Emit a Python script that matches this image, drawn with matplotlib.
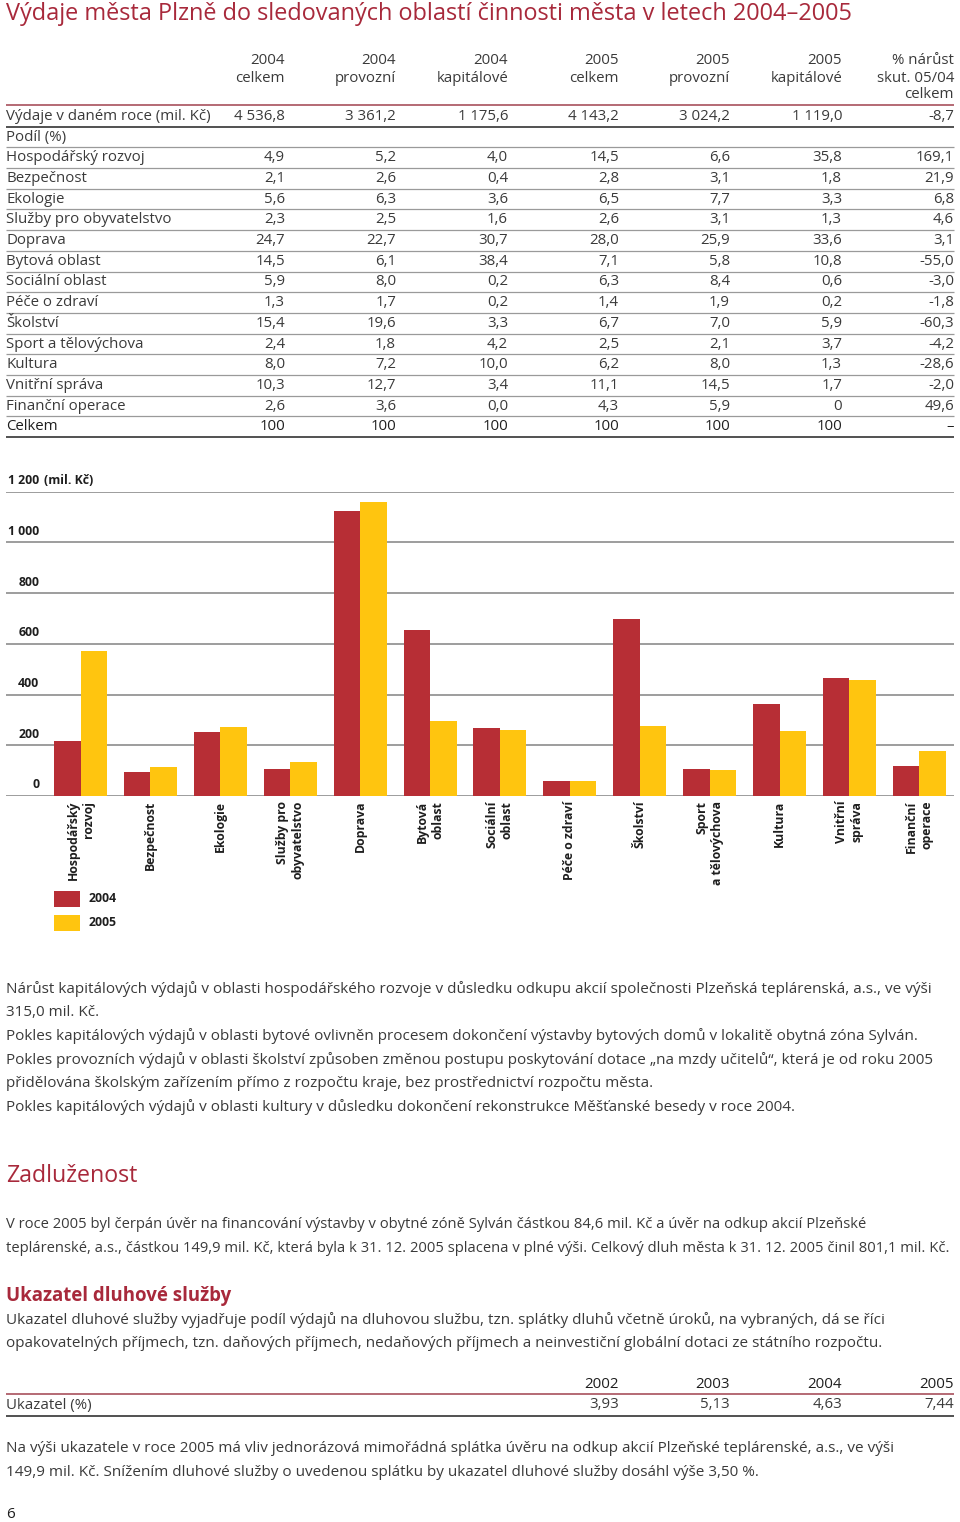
import numpy as np
import matplotlib
matplotlib.use("Agg")
import matplotlib.pyplot as plt
from matplotlib.patches import Rectangle

plt.rcParams['font.family'] = ['Open Sans', 'DejaVu Sans']

# ==============================
# DATA
# ==============================
oblasti = ["Hospodářský rozvoj", "Bezpečnost", "Ekologie", "Služby pro obyvatelstvo",
           "Doprava", "Bytová oblast", "Sociální oblast", "Péče o zdraví", "Školství",
           "Sport a tělovýchova", "Kultura", "Vnitřní správa", "Finanční operace"]

hlavicky = [["2004", "celkem"], ["2004", "provozní"], ["2004", "kapitálové"],
            ["2005", "celkem"], ["2005", "provozní"], ["2005", "kapitálové"],
            ["% nárůst", "skut. 05/04", "celkem"]]

vydaje_celkem = ["4 536,8", "3 361,2", "1 175,6", "4 143,2", "3 024,2", "1 119,0", "-8,7"]

podil_2004_celkem = ["4,9", "2,1", "5,6", "2,3", "24,7", "14,5", "5,9", "1,3", "15,4", "2,4", "8,0", "10,3", "2,6"]
podil_2004_prov = ["5,2", "2,6", "6,3", "2,5", "22,7", "6,1", "8,0", "1,7", "19,6", "1,8", "7,2", "12,7", "3,6"]
podil_2004_kap = ["4,0", "0,4", "3,6", "1,6", "30,7", "38,4", "0,2", "0,2", "3,3", "4,2", "10,0", "3,4", "0,0"]
podil_2005_celkem = ["14,5", "2,8", "6,5", "2,6", "28,0", "7,1", "6,3", "1,4", "6,7", "2,5", "6,2", "11,1", "4,3"]
podil_2005_prov = ["6,6", "3,1", "7,7", "3,1", "25,9", "5,8", "8,4", "1,9", "7,0", "2,1", "8,0", "14,5", "5,9"]
podil_2005_kap = ["35,8", "1,8", "3,3", "1,3", "33,6", "10,8", "0,6", "0,2", "5,9", "3,7", "1,3", "1,7", "0"]
narust = ["169,1", "21,9", "6,8", "4,6", "3,1", "-55,0", "-3,0", "-1,8", "-60,3", "-4,2", "-28,6", "-2,0", "49,6"]
celkem_radek = ["100", "100", "100", "100", "100", "100", "–"]

# graf (mil. Kč)
popisky_grafu = ["Hospodářský\nrozvoj", "Bezpečnost", "Ekologie", "Služby pro\nobyvatelstvo",
                 "Doprava", "Bytová\noblast", "Sociální\noblast", "Péče o zdraví", "Školství",
                 "Sport\na tělovýchova", "Kultura", "Vnitřní\nspráva", "Finanční\noperace"]
vydaje_2004 = [217, 93, 253, 108, 1122, 655, 269, 61, 697, 108, 361, 467, 120]
vydaje_2005 = [570, 116, 271, 136, 1159, 295, 262, 58, 276, 103, 258, 458, 178]
y_ticks = [0, 200, 400, 600, 800, 1000, 1200]

roky_ukazatel = ["2002", "2003", "2004", "2005"]
ukazatel = [3.93, 5.13, 4.63, 7.44]

# ==============================
# STYL
# ==============================
W, H = 960, 1522
RED = "#B72E35"
YELLOW = "#FFC50F"
TITLE_RED = "#A8293B"
TEXT = "#3a3a3a"
DARK = "#1e1e1e"
LINE_GRAY = "#9a9a9a"
TAB = 10.8     # velikost písma tabulky
PAR = 10.95    # velikost písma odstavců

fig = plt.figure(figsize=(W / 100, H / 100), dpi=100)
page = fig.add_axes([0, 0, 1, 1])
page.set_xlim(0, W)
page.set_ylim(H, 0)
page.axis('off')


def txt(x, y, s, size=TAB, color=TEXT, ha='left', weight='normal'):
    page.text(x, y, s, fontsize=size, color=color, ha=ha, va='center', fontweight=weight)


def hline(y, color=LINE_GRAY, lw=0.9, x0=6, x1=954):
    page.plot([x0, x1], [y, y], color=color, lw=lw, solid_capstyle='butt')


# ==============================
# NADPIS + TABULKA
# ==============================
txt(6, 14, "Výdaje města Plzně do sledovaných oblastí činnosti města v letech 2004–2005",
    size=16.95, color=TITLE_RED)

col_x = [285, 396, 508, 619, 730, 842, 954]
for cx, hl in zip(col_x, hlavicky):
    for k, s in enumerate(hl):
        txt(cx, 61 + 17 * k, s, ha='right')

hline(105, color="#a8505c", lw=1.2)
txt(6, 116, "Výdaje v daném roce (mil. Kč)")
for cx, s in zip(col_x, vydaje_celkem):
    txt(cx, 116, s, ha='right')
hline(127, color="#333333", lw=1.2)

row_h = 20.7
txt(6, 137, "Podíl (%)")
hline(137 + 10.3)
sloupce = [podil_2004_celkem, podil_2004_prov, podil_2004_kap, podil_2005_celkem,
           podil_2005_prov, podil_2005_kap, narust]
for i, nazev in enumerate(oblasti):
    y = 137 + row_h * (i + 1)
    txt(6, y, nazev)
    for cx, col in zip(col_x, sloupce):
        txt(cx, y, col[i], ha='right')
    hline(y + 10.3)
y = 137 + row_h * (len(oblasti) + 1)
txt(6, y, "Celkem", color=DARK)
for cx, s in zip(col_x, celkem_radek):
    txt(cx, y, s, ha='right', color=DARK)
hline(y + 10.3, color="#333333", lw=1.2)

# ==============================
# GRAF
# ==============================
y0_px, y1_px = 796, 491.7
ax = fig.add_axes([6 / W, 1 - y0_px / H, 948 / W, (y0_px - y1_px) / H])
ax.patch.set_alpha(0)
x = np.arange(len(vydaje_2004))
w = 0.379
ax.bar(x - w / 2, vydaje_2004, w, color=RED, zorder=3)
ax.bar(x + w / 2, vydaje_2005, w, color=YELLOW, zorder=3)
ax.set_xlim(-1.066, 12.496)
ax.set_ylim(0, 1200)
ax.set_yticks(y_ticks)
ax.yaxis.grid(True, color="#8c8c8c", lw=1.2, zorder=0)
ax.set_axisbelow(True)
ax.tick_params(axis='y', length=0, labelleft=False)
for sp in ax.spines.values():
    sp.set_visible(False)
ax.set_xticks(x)
ax.set_xticklabels(popisky_grafu, rotation=90, fontweight='bold', fontsize=8.8,
                   color=DARK, multialignment='right')
ax.tick_params(axis='x', length=0, pad=3.5)

for v in y_ticks:
    lbl = f"{v:,}".replace(",", " ")
    ax.annotate(lbl, xy=(0, v), xycoords=('axes fraction', 'data'),
                xytext=(24, 8), textcoords='offset points', ha='right', va='center',
                fontsize=8.8, fontweight='bold', color=DARK)
ax.annotate("(mil. Kč)", xy=(0, y_ticks[-1]), xycoords=('axes fraction', 'data'),
            xytext=(27, 8), textcoords='offset points', ha='left', va='center',
            fontsize=8.8, fontweight='bold', color=DARK)

# legenda
page.add_patch(Rectangle((54, 891), 26, 16, color=RED, lw=0))
page.add_patch(Rectangle((54, 915), 26, 16, color=YELLOW, lw=0))
txt(89, 899, "2004", size=8.8, weight='bold', color=DARK)
txt(89, 923, "2005", size=8.8, weight='bold', color=DARK)

# ==============================
# TEXTY
# ==============================
odst1 = ["Nárůst kapitálových výdajů v oblasti hospodářského rozvoje v důsledku odkupu akcií společnosti Plzeňská teplárenská, a.s., ve výši",
         "315,0 mil. Kč.",
         "Pokles kapitálových výdajů v oblasti bytové ovlivněn procesem dokončení výstavby bytových domů v lokalitě obytná zóna Sylván.",
         "Pokles provozních výdajů v oblasti školství způsoben změnou postupu poskytování dotace „na mzdy učitelů“, která je od roku 2005",
         "přidělována školským zařízením přímo z rozpočtu kraje, bez prostřednictví rozpočtu města.",
         "Pokles kapitálových výdajů v oblasti kultury v důsledku dokončení rekonstrukce Měšťanské besedy v roce 2004."]
for k, s in enumerate(odst1):
    txt(6, 989 + 23.6 * k, s, size=PAR)

txt(6, 1176, "Zadluženost", size=16.7, color=TITLE_RED)
odst2 = ["V roce 2005 byl čerpán úvěr na financování výstavby v obytné zóně Sylván částkou 84,6 mil. Kč a úvěr na odkup akcií Plzeňské",
         "teplárenské, a.s., částkou 149,9 mil. Kč, která byla k 31. 12. 2005 splacena v plné výši. Celkový dluh města k 31. 12. 2005 činil 801,1 mil. Kč."]
for k, s in enumerate(odst2):
    txt(6, 1225 + 24 * k, s, size=10.6)

txt(6, 1296, "Ukazatel dluhové služby", size=13.4, color=TITLE_RED, weight='bold')
odst3 = ["Ukazatel dluhové služby vyjadřuje podíl výdajů na dluhovou službu, tzn. splátky dluhů včetně úroků, na vybraných, dá se říci",
         "opakovatelných příjmech, tzn. daňových příjmech, nedaňových příjmech a neinvestiční globální dotaci ze státního rozpočtu."]
for k, s in enumerate(odst3):
    txt(6, 1320 + 23.5 * k, s, size=PAR)

for cx, r in zip(col_x[3:], roky_ukazatel):
    txt(cx, 1385, r, ha='right', color=DARK)
hline(1394, color="#a8505c", lw=1.2)
txt(6, 1405, "Ukazatel (%)")
for cx, v in zip(col_x[3:], ukazatel):
    txt(cx, 1405, f"{v:.2f}".replace(".", ","), ha='right')
hline(1416, color="#333333", lw=1.2)

odst4 = ["Na výši ukazatele v roce 2005 má vliv jednorázová mimořádná splátka úvěru na odkup akcií Plzeňské teplárenské, a.s., ve výši",
         "149,9 mil. Kč. Snížením dluhové služby o uvedenou splátku by ukazatel dluhové služby dosáhl výše 3,50 %."]
for k, s in enumerate(odst4):
    txt(6, 1449 + 23.5 * k, s, size=PAR)

txt(6, 1514, "6", size=PAR, color=DARK)

fig.savefig("out.png", dpi=100)
